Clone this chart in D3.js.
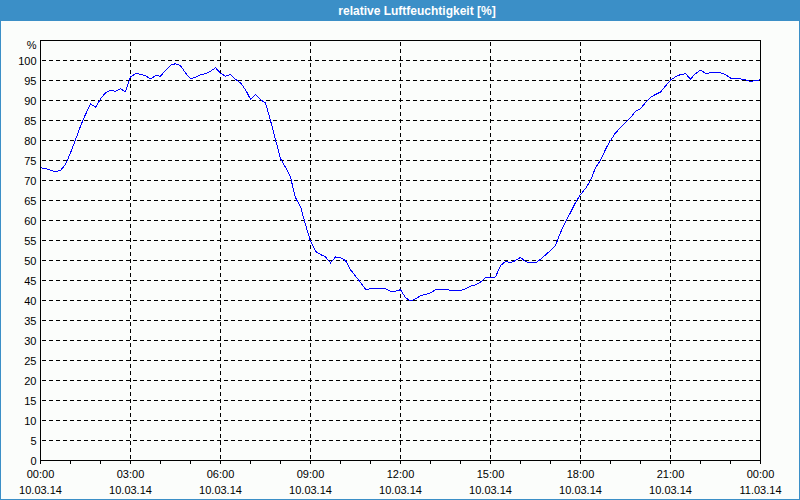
<!DOCTYPE html>
<html lang="de">
<head>
  <meta charset="UTF-8">
  <title>relative Luftfeuchtigkeit</title>
  <script src="https://d3js.org/d3.v7.min.js"></script>
  <style>
    html, body { margin: 0; padding: 0; background: #fff; }
    svg { display: block; }
    .tick-label { font-family: "Liberation Sans", Arial, sans-serif; font-size: 11px; fill: #000; }
    .title { font-family: "Liberation Sans", Arial, sans-serif; font-size: 12px; font-weight: bold; fill: #fff; }
  </style>
</head>
<body>
<div id="chart"></div>
<script>
  // 10-minute readings, 10.03.14 00:00 .. 11.03.14 00:00
  const startTime = new Date(2014, 2, 10, 0, 0);
  const endTime = new Date(2014, 2, 11, 0, 0);
  const humidity = [
    73.2, 73.0, 72.6, 72.2, 72.5, 74.0, 76.9, 80.2, 83.6, 86.5,
    89.2, 88.3, 90.4, 91.9, 92.6, 92.3, 92.9, 92.2, 95.9, 96.7,
    96.6, 96.2, 95.4, 96.2, 96.1, 97.5, 98.8, 99.2, 98.7, 96.9,
    95.4, 95.8, 96.4, 96.7, 97.3, 98.2, 96.8, 96.1, 96.5, 95.3,
    94.4, 92.7, 90.3, 91.5, 90.2, 89.4, 85.0, 80.2, 75.5, 73.3,
    70.8, 65.7, 63.5, 59.0, 54.8, 52.3, 51.5, 50.9, 49.4, 50.9,
    50.7, 50.0, 47.7, 46.1, 44.5, 42.8, 42.9, 42.9, 42.9, 42.9,
    42.3, 42.3, 42.7, 40.7, 39.9, 40.4, 41.2, 41.5, 41.9, 42.7,
    42.8, 42.7, 42.6, 42.5, 42.5, 42.9, 43.6, 43.9, 44.6, 45.7,
    45.7, 45.9, 48.7, 49.8, 49.4, 50.0, 50.8, 49.7, 49.5, 49.4,
    50.3, 51.4, 52.5, 53.8, 57.0, 59.6, 62.0, 64.5, 66.5, 68.0,
    70.0, 73.2, 75.0, 77.8, 80.0, 81.9, 83.2, 84.5, 85.7, 87.3,
    87.9, 89.5, 90.8, 91.5, 92.1, 93.6, 95.1, 95.9, 96.5, 96.7,
    95.4, 96.7, 97.6, 96.8, 96.9, 96.9, 96.9, 96.5, 95.6, 95.4,
    95.4, 95.2, 94.7, 95.0, 95.2
  ];
  const times = d3.timeMinute.every(10).range(startTime, d3.timeMinute.offset(endTime, 1));
  const yTicks = d3.range(0, 101, 5);
  const yMax = 105;
  const titleText = "relative Luftfeuchtigkeit [%]";
  const unitLabel = "%";

  const data = times.map((t, i) => ({ t, v: humidity[i] }));

  const width = 800, height = 500;
  const plotLeft = 40.5, plotRight = 760.5, plotTop = 40.5, plotBottom = 460.5;

  const svg = d3.select("#chart").append("svg")
    .attr("width", width)
    .attr("height", height);

  // frame + title bar
  svg.append("rect")
    .attr("x", 0.5).attr("y", 0.5)
    .attr("width", width - 1).attr("height", height - 1)
    .attr("fill", "#fbfdfb")
    .attr("stroke", "#3b8fc7");
  svg.append("rect")
    .attr("x", 0).attr("y", 0)
    .attr("width", width).attr("height", 21)
    .attr("fill", "#3b8fc7");
  svg.append("text")
    .attr("class", "title")
    .attr("x", 417).attr("y", 15)
    .attr("text-anchor", "middle")
    .text(titleText);

  const x = d3.scaleTime().domain([startTime, endTime]).range([plotLeft, plotRight]);
  const y = d3.scaleLinear().domain([0, yMax]).range([plotBottom, plotTop]);

  const majorTicks = d3.timeHour.every(3).range(startTime, d3.timeMinute.offset(endTime, 1));
  const minorTicks = d3.timeHour.every(1).range(startTime, d3.timeMinute.offset(endTime, 1));

  const grid = svg.append("g").attr("shape-rendering", "crispEdges");

  // horizontal grid
  grid.selectAll(".hgrid")
    .data(yTicks.filter(d => d > 0))
    .enter().append("line")
    .attr("x1", plotLeft + 1).attr("x2", plotRight)
    .attr("y1", d => y(d)).attr("y2", d => y(d))
    .attr("stroke", "#000")
    .attr("stroke-dasharray", "4,3");

  // vertical grid
  grid.selectAll(".vgrid")
    .data(majorTicks.filter(d => +d > +startTime && +d < +endTime))
    .enter().append("line")
    .attr("x1", d => x(d)).attr("x2", d => x(d))
    .attr("y1", plotTop + 1).attr("y2", plotBottom)
    .attr("stroke", "#000")
    .attr("stroke-dasharray", "4,3");

  // hour ticks below x axis
  grid.selectAll(".xtick")
    .data(minorTicks)
    .enter().append("line")
    .attr("x1", d => x(d)).attr("x2", d => x(d))
    .attr("y1", plotBottom).attr("y2", plotBottom + 3)
    .attr("stroke", "#000");

  // plot frame
  grid.append("rect")
    .attr("x", plotLeft).attr("y", plotTop)
    .attr("width", plotRight - plotLeft).attr("height", plotBottom - plotTop)
    .attr("fill", "none")
    .attr("stroke", "#000");

  // y labels
  svg.selectAll(".ylabel")
    .data(yTicks)
    .enter().append("text")
    .attr("class", "tick-label")
    .attr("x", 36.5)
    .attr("y", d => y(d) + 4)
    .attr("text-anchor", "end")
    .text(d => d);
  svg.append("text")
    .attr("class", "tick-label")
    .attr("x", 36.5).attr("y", 49)
    .attr("text-anchor", "end")
    .text(unitLabel);

  // x labels
  const fmtTime = d3.timeFormat("%H:%M");
  const fmtDate = d3.timeFormat("%d.%m.%y");
  const xl = svg.selectAll(".xlabel")
    .data(majorTicks)
    .enter().append("g")
    .attr("transform", d => `translate(${x(d)},0)`);
  xl.append("text")
    .attr("class", "tick-label")
    .attr("y", 478)
    .attr("text-anchor", "middle")
    .text(d => fmtTime(d));
  xl.append("text")
    .attr("class", "tick-label")
    .attr("y", 494)
    .attr("text-anchor", "middle")
    .text(d => fmtDate(d));

  // humidity line
  const line = d3.line()
    .x(d => x(d.t))
    .y(d => y(d.v));
  svg.append("path")
    .datum(data)
    .attr("d", line)
    .attr("fill", "none")
    .attr("stroke", "#0000ff")
    .attr("stroke-width", 1)
    .attr("shape-rendering", "crispEdges");
</script>
</body>
</html>
